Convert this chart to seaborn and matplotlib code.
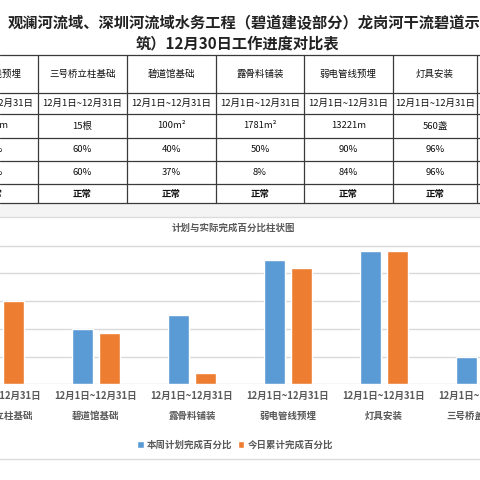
import matplotlib
matplotlib.use("Agg")
import matplotlib.pyplot as plt
import numpy as np
import pandas as pd
import seaborn as sns

# ---- data ----
title_line1 = "观澜河流域、深圳河流域水务工程（碧道建设部分）龙岗河干流碧道示"
title_line2 = "筑）12月30日工作进度对比表"

table_items = ["强电管线预埋", "三号桥立柱基础", "碧道馆基础", "露骨料铺装", "弱电管线预埋", "灯具安装"]
table_period = ["12月1日~12月31日"] * 6
table_quantity = ["1200m", "15根", "100m²", "1781m²", "13221m", "560盏"]
table_plan = ["95%", "60%", "40%", "50%", "90%", "96%"]
table_actual = ["95%", "60%", "37%", "8%", "84%", "96%"]
table_status = ["正常"] * 6

chart_title = "计划与实际完成百分比柱状图"
categories = ["三号桥立柱基础", "碧道馆基础", "露骨料铺装", "弱电管线预埋", "灯具安装", "三号桥盖梁桥台"]
period = "12月1日~12月31日"
plan_pct = [60, 40, 50, 90, 96, 20]
actual_pct = [60, 37, 8, 84, 96, np.nan]
series = ["本周计划完成百分比", "今日累计完成百分比"]

df = pd.DataFrame({
    "cat": categories * 2,
    "pct": plan_pct + actual_pct,
    "series": [series[0]] * len(categories) + [series[1]] * len(categories),
})

sns.set_style("white")
plt.rcParams["font.family"] = ["Noto Sans CJK SC", "DejaVu Sans"]

fig = plt.figure(figsize=(4.8, 4.8), dpi=100)
W = H = 480

# overlay axes in pixel coordinates for the table part
tab = fig.add_axes([0, 0, 1, 1])
tab.set_xlim(0, W)
tab.set_ylim(H, 0)
tab.axis("off")

# light strip between table and chart
tab.fill_between([0, W], 203, 217, color="#f4f4f4", lw=0)

tab.text(8, 23, title_line1, fontsize=11, fontweight="bold", color="#222222",
         ha="left", va="center")
tab.text(238, 43, title_line2, fontsize=11, fontweight="bold", color="#222222",
         ha="center", va="center")

row_lines = [55, 93, 114, 138, 161, 184, 203]
col_lines = [38, 127, 216, 304, 393, 477]
line_col = "#3a3a3a"
for y in row_lines:
    tab.plot([0, W], [y, y], color=line_col, lw=0.9)
for x in col_lines:
    tab.plot([x, x], [row_lines[0], row_lines[-1]], color=line_col, lw=0.9)

col_w = col_lines[1] - col_lines[0]
col_centers = [col_lines[0] - col_w / 2] + [(a + b) / 2 for a, b in zip(col_lines[:-1], col_lines[1:])]
rows = [table_items, table_period, table_quantity, table_plan, table_actual, table_status]
for r, row in enumerate(rows):
    yc = (row_lines[r] + row_lines[r + 1]) / 2
    for c, txt in enumerate(row):
        tab.text(col_centers[c], yc, txt, fontsize=6.8, color="#111111",
                 ha="center", va="center",
                 fontweight="bold" if r == len(rows) - 1 else "normal")

# chart frame lines
tab.plot([0, W], [217, 217], color="#dcdcdc", lw=1)
tab.plot([0, W], [459, 459], color="#dcdcdc", lw=1)
tab.text(233, 228, chart_title, fontsize=6.8, fontweight="bold", color="#595959",
         ha="center", va="center")

# ---- bar chart ----
base_px, top_px = 384.3, 245.7
px_per_unit = (base_px - top_px) / 100
ymax = 110
ax = fig.add_axes([0, (H - base_px) / H, 1, ymax * px_per_unit / H])
ax.patch.set_alpha(0)
sns.barplot(data=df, x="cat", y="pct", hue="series", order=categories,
            palette=["#5B9BD5", "#ED7D31"], width=0.57, gap=0.21,
            saturation=1, ax=ax, legend=True)
ax.set_ylim(0, ymax)
ax.set_xlim(7 / 100, (W + 7) / 100)
ax.set_yticks(np.arange(0, 101, 20))
ax.yaxis.grid(True, color="#d9d9d9", lw=1)
ax.set_axisbelow(True)
ax.tick_params(axis="y", length=0, labelleft=False)
for s in ax.spines.values():
    s.set_visible(False)
ax.set_xlabel("")
ax.set_ylabel("")
ax.set_xticks(range(len(categories)))
ax.set_xticklabels([f"{period}\n{c}" for c in categories], fontsize=6.8,
                   fontweight="bold", color="#595959", linespacing=2.3)
ax.set_xticks(np.arange(0.5, len(categories) - 0.5, 1), minor=True)
ax.tick_params(axis="x", which="major", length=0, pad=4.5)
ax.tick_params(axis="x", which="minor", length=28, width=1, color="#d9d9d9")

handles, labels = ax.get_legend_handles_labels()
ax.legend(handles, labels, loc="center", bbox_to_anchor=(235 / W, (H - 445) / H),
          bbox_transform=fig.transFigure, ncol=2, frameon=False,
          handlelength=0.7, handleheight=0.7, handletextpad=0.3, columnspacing=0.6,
          labelcolor="#595959", prop={"weight": "bold", "size": 6.8})

fig.savefig("out.png", dpi=100)
